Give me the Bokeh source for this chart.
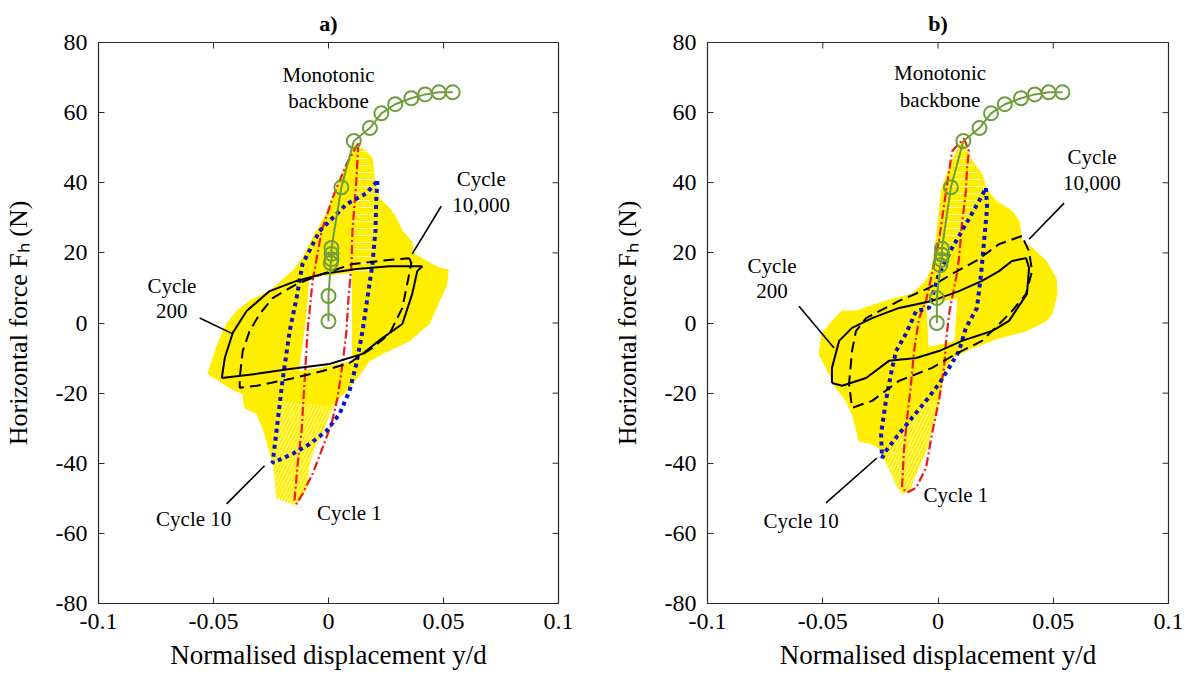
import math
from bokeh.plotting import figure
from bokeh.models import Range1d, FixedTicker, Label
from bokeh.layouts import row
from bokeh.embed import file_html
from bokeh.resources import INLINE

# ---------------- data ----------------
x_ticks = [-0.1, -0.05, 0, 0.05, 0.1]
x_tick_labels = ["-0.1", "-0.05", "0", "0.05", "0.1"]
y_ticks = [-80, -60, -40, -20, 0, 20, 40, 60, 80]
y_tick_labels = ["-80", "-60", "-40", "-20", "0", "20", "40", "60", "80"]

# Monotonic backbone (both panels)
bb_a_x = [0.0, 0.0, 0.001, 0.0013, 0.0013, 0.0013, 0.0056, 0.011, 0.018, 0.023, 0.029, 0.036, 0.042, 0.048, 0.054]
bb_a_y = [0.5, 7.7, 17.1, 18.2, 19.7, 21.4, 38.7, 51.9, 55.6, 59.8, 62.4, 64.1, 65.2, 65.8, 65.8]
bb_b_x = [-0.0005, -0.0005, 0.001, 0.0015, 0.0017, 0.0017, 0.0056, 0.011, 0.018, 0.023, 0.029, 0.036, 0.042, 0.048, 0.054]
bb_b_y = [0.0, 7.1, 16.5, 18.0, 19.5, 21.2, 38.7, 51.9, 55.6, 59.8, 62.4, 64.1, 65.2, 65.8, 65.8]

# Envelope of all cycles (yellow) - panel a
env_a_x = [0.0121, 0.0148, 0.0191, 0.0200, 0.0221, 0.0265, 0.0295, 0.0321, 0.0360, 0.0373, 0.0425, 0.0482, 0.0521,
           0.0512, 0.0482, 0.0438, 0.0351, 0.0234, 0.0178, 0.0148, 0.0091, 0.0035, 0.0004, -0.0026, -0.0052,
           -0.0082, -0.0095, -0.0126, -0.0152, -0.0226, -0.0234, -0.0247, -0.0269, -0.0286, -0.0312, -0.0364,
           -0.0373, -0.0430, -0.0486, -0.0525, -0.0516, -0.0482, -0.0443, -0.0399, -0.0343, -0.0256, -0.0156,
           -0.0113, -0.0069, -0.0009, 0.0035, 0.0078, 0.0110]
env_a_y = [49.6, 49.9, 47.0, 40.5, 35.6, 32.8, 29.9, 26.2, 23.4, 19.7, 17.7, 15.7, 15.1,
           10.5, 6.3, -0.3, -5.1, -8.8, -10.8, -13.7, -18.5, -22.2, -25.9, -31.6, -34.5,
           -39.3, -47.0, -50.7, -51.6, -49.9, -43.0, -38.5, -33.6, -29.9, -25.9, -24.2,
           -20.2, -18.5, -16.0, -14.5, -12.8, -6.0, -0.3, 3.4, 6.3, 9.1, 14.8,
           18.5, 24.2, 31.1, 38.5, 45.3, 51.0]
hole_a_x = [-0.0082, 0.0100, 0.0100, -0.0126, -0.0095]
hole_a_y = [12.8, 14.2, -10.8, -13.7, 1.4]
# lighter (striped) lobes where the intermediate cycle traces leave white gaps
lobe_up_a_x = [0.0130, 0.0165, 0.0200, 0.0221, 0.0187, 0.0104, 0.0100, 0.0121]
lobe_up_a_y = [51.3, 49.0, 40.5, 35.6, 14.8, 14.2, 26.2, 40.5]
lobe_lo_a_x = [-0.0213, 0.0004, 0.0035, -0.0026, -0.0069, -0.0113, -0.0139, -0.0169, -0.0226, -0.0234, -0.0247, -0.0234]
lobe_lo_a_y = [-22.2, -23.6, -22.2, -35.6, -43.0, -48.7, -51.6, -51.6, -49.9, -43.0, -38.5, -30.8]

# Envelope (yellow) - panel b
env_b_x = [0.0104, 0.0148, 0.0191, 0.0208, 0.0252, 0.0321, 0.0351, 0.0364, 0.0408, 0.0469, 0.0512, 0.0516,
           0.0495, 0.0469, 0.0382, 0.0265, 0.0148, 0.0061, 0.0035, 0.0017, 0.0004, -0.0026, -0.0052, -0.0095,
           -0.0126, -0.0156, -0.0182, -0.0213, -0.0256, -0.0286, -0.0343, -0.0356, -0.0373, -0.0399, -0.0443,
           -0.0486, -0.0516, -0.0503, -0.0460, -0.0416, -0.0356, -0.0226, -0.0113, -0.0052, -0.0026, -0.0009,
           0.0004, 0.0017, 0.0061]
env_b_y = [51.9, 46.2, 42.5, 38.5, 34.8, 31.9, 29.1, 23.4, 21.4, 17.7, 12.8, 8.3,
           2.6, 0.6, -2.3, -4.3, -7.1, -10.0, -12.8, -17.4, -22.2, -29.9, -36.5, -43.0,
           -47.9, -48.7, -45.9, -41.3, -35.6, -34.5, -33.6, -29.9, -25.9, -22.2, -18.5,
           -12.8, -8.8, -3.1, 0.6, 3.4, 3.4, 6.3, 8.3, 12.0, 15.7, 23.4,
           31.1, 38.5, 46.2]
hole_b_x = [-0.0048, 0.0082, 0.0069, -0.0039]
hole_b_y = [5.4, 6.8, -5.1, -6.6]
lobe_up_b_x = [0.0113, 0.0148, 0.0208, 0.0178, 0.0121, 0.0069, 0.0026, 0.0048, 0.0069]
lobe_up_b_y = [52.7, 46.2, 38.5, 34.8, 28.2, 21.4, 20.5, 34.8, 46.2]
lobe_lo_b_x = [-0.0169, -0.0052, 0.0004, -0.0026, -0.0052, -0.0095, -0.0134, -0.0156, -0.0182, -0.0213, -0.0226]
lobe_lo_b_y = [-31.6, -22.2, -22.2, -31.6, -41.3, -47.0, -48.4, -48.7, -45.9, -41.3, -36.5]

# Cycle 1 (red dash-dot)
c1_a_x = [0.0130, 0.0121, 0.0104, 0.0100, 0.0087, 0.0078, 0.0061, 0.0039, 0.0013, -0.0026, -0.0069, -0.0113,
          -0.0139, -0.0148, -0.0134, -0.0117, -0.0104, -0.0091, -0.0069, -0.0030, 0.0017, 0.0078, 0.0130]
c1_a_y = [51.3, 40.5, 26.2, 16.8, 7.1, -2.3, -11.7, -21.4, -28.8, -35.6, -43.0, -48.7,
          -51.6, -50.7, -40.2, -30.8, -16.5, -2.3, 12.0, 26.2, 35.6, 45.3, 51.3]
c1_b_x = [0.0113, 0.0134, 0.0126, 0.0121, 0.0104, 0.0091, 0.0082, 0.0048, 0.0035, 0.0026, 0.0004, -0.0026,
          -0.0052, -0.0095, -0.0134, -0.0156, -0.0148, -0.0134, -0.0117, -0.0104, -0.0082, -0.0052, -0.0026,
          0.0004, 0.0035, 0.0061, 0.0113]
c1_b_y = [52.7, 49.0, 44.2, 37.6, 28.2, 18.5, 14.0, 2.6, -5.1, -12.8, -22.2, -31.6,
          -41.3, -47.0, -48.4, -47.0, -36.5, -27.1, -17.4, -8.0, 1.4, 6.3, 14.0,
          23.4, 37.6, 49.0, 52.7]

# Cycle 10 (blue dotted)
c10_a_x = [0.0213, 0.0208, 0.0204, 0.0191, 0.0169, 0.0148, 0.0121, 0.0091, 0.0048, -0.0009, -0.0082, -0.0156,
           -0.0243, -0.0226, -0.0200, -0.0169, -0.0139, -0.0113, -0.0039, 0.0078, 0.0165, 0.0213]
c10_a_y = [40.5, 35.6, 26.2, 16.8, 7.1, -2.3, -11.7, -19.4, -25.9, -30.8, -34.5, -37.3,
           -39.9, -30.8, -16.5, -2.3, 7.1, 16.8, 26.2, 33.9, 37.0, 40.5]
c10_b_x = [0.0208, 0.0213, 0.0200, 0.0187, 0.0169, 0.0121, 0.0091, 0.0048, 0.0004, -0.0052, -0.0113, -0.0169,
           -0.0226, -0.0243, -0.0247, -0.0226, -0.0204, -0.0182, -0.0139, -0.0095, -0.0039, 0.0004, 0.0061,
           0.0121, 0.0178, 0.0208]
c10_b_y = [38.5, 32.8, 23.4, 14.0, 4.3, -1.4, -8.0, -12.8, -17.4, -22.2, -27.1, -31.6,
           -36.5, -38.5, -31.6, -22.2, -14.5, -8.0, -3.1, 3.4, 4.3, 14.0, 21.4,
           28.2, 34.8, 38.5]

# Cycle 200 (black solid)
c200_a_x = [-0.0464, -0.0451, -0.0416, -0.0356, -0.0256, -0.0139, -0.0026, 0.0121, 0.0265, 0.0408, 0.0386,
            0.0364, 0.0321, 0.0234, 0.0148, 0.0004, -0.0169, -0.0312, -0.0464]
c200_a_y = [-15.7, -10.0, -2.8, 3.4, 9.1, 12.0, 14.0, 15.4, 16.2, 16.2, 14.8,
            8.3, -0.3, -4.3, -8.8, -11.7, -13.1, -14.5, -15.7]
c200_b_x = [-0.0460, -0.0416, -0.0312, -0.0213, -0.0095, 0.0004, 0.0104, 0.0234, 0.0308, 0.0386, 0.0395,
            0.0382, 0.0321, 0.0265, 0.0191, 0.0091, -0.0026, -0.0169, -0.0286, -0.0373, -0.0429, -0.0460,
            -0.0460]
c200_b_y = [-17.1, -17.9, -15.7, -10.8, -10.0, -8.0, -5.1, -2.3, 0.6, 8.3, 15.7,
            18.5, 17.7, 14.8, 12.0, 9.1, 6.3, 4.3, 1.4, -1.4, -5.1, -12.8,
            -17.1]

# Cycle 10,000 (black dashed)
c10k_a_x = [0.0351, 0.0360, 0.0351, 0.0321, 0.0265, 0.0191, 0.0091, -0.0026, -0.0169, -0.0312, -0.0386,
            -0.0386, -0.0373, -0.0343, -0.0299, -0.0243, -0.0139, -0.0026, 0.0104, 0.0221, 0.0351]
c10k_a_y = [18.5, 17.1, 14.0, 4.3, -3.1, -7.1, -11.4, -13.7, -16.0, -17.9, -18.5,
            -15.7, -8.0, -2.3, 2.6, 7.1, 11.1, 14.0, 16.8, 17.7, 18.5]
c10k_b_x = [0.0364, 0.0265, 0.0165, 0.0061, -0.0039, -0.0169, -0.0312, -0.0356, -0.0373, -0.0386, -0.0373,
            -0.0286, -0.0169, -0.0026, 0.0078, 0.0191, 0.0265, 0.0321, 0.0382, 0.0408, 0.0395, 0.0364]
c10k_b_y = [24.8, 22.5, 17.7, 14.0, 10.0, 6.3, 1.4, -2.3, -8.0, -17.4, -24.2,
            -22.2, -16.5, -12.8, -8.8, -5.1, -0.3, 3.4, 8.3, 14.8, 20.5, 24.8]

# Annotation texts
ann_text = ["Monotonic", "backbone", "Cycle", "10,000", "Cycle", "200", "Cycle 10", "Cycle 1"]
ann_a_x = [0.0, 0.0, 0.0664, 0.0664, -0.0681, -0.0681, -0.0586, 0.0091]
ann_a_y = [70.6, 63.2, 41.0, 33.6, 10.5, 3.4, -55.8, -54.1]
ann_b_x = [0.0009, 0.0009, 0.0668, 0.0668, -0.0720, -0.0720, -0.0594, 0.0078]
ann_b_y = [71.2, 63.7, 47.3, 39.9, 16.2, 9.1, -56.4, -49.0]

# Pointer lines: [10,000], [200], [10]
ptr_a_x = [[0.0490, 0.0364], [-0.0560, -0.0416], [-0.0443, -0.0278]]
ptr_a_y = [[33.3, 19.7], [1.4, -3.1], [-51.6, -40.7]]
ptr_b_x = [[0.0547, 0.0395], [-0.0603, -0.0451], [-0.0486, -0.0265]]
ptr_b_y = [[34.2, 23.9], [4.8, -7.1], [-51.3, -38.5]]

titles = ["a)", "b)"]
x_label = "Normalised displacement y/d"
y_label = "Horizontal force F\u2095 (N)"

# ---------------- styling ----------------
FONT = "Liberation Serif"
YELLOW = "#FFEE00"
RED = "#F01818"
BLUE = "#0A14C8"
GREEN = "#6E9E3C"
FRAME = "#2a2a2a"


def make_panel(title, width, left, right, env_x, env_y, hole_x, hole_y, lux, luy, llx, lly,
               c1x, c1y, c10x, c10y, c200x, c200y, c10kx, c10ky,
               bbx, bby, ax, ay, px, py):
    p = figure(width=width, height=676, output_backend="svg", toolbar_location=None,
               x_range=Range1d(-0.1, 0.1), y_range=Range1d(-80, 80),
               min_border_left=left, min_border_right=right,
               min_border_top=42, min_border_bottom=73)
    p.xgrid.visible = False
    p.ygrid.visible = False
    p.outline_line_color = FRAME
    p.outline_line_width = 1.2
    p.background_fill_color = "white"
    p.border_fill_color = "white"

    p.title.text = title
    p.title.align = "center"
    p.title.text_font = FONT
    p.title.text_font_size = "22px"
    p.title.text_font_style = "bold"
    p.title.text_color = "black"
    p.title.standoff = 14

    p.xaxis.ticker = FixedTicker(ticks=x_ticks)
    p.yaxis.ticker = FixedTicker(ticks=y_ticks)
    p.xaxis.major_label_overrides = dict(zip(x_ticks, x_tick_labels))
    p.yaxis.major_label_overrides = dict(zip(y_ticks, y_tick_labels))
    for a in p.axis:
        a.major_tick_in = 6
        a.major_tick_out = 0
        a.minor_tick_in = 0
        a.minor_tick_out = 0
        a.axis_line_color = FRAME
        a.major_tick_line_color = FRAME
        a.major_label_text_font = FONT
        a.major_label_text_font_size = "24px"
        a.major_label_text_color = "black"
        a.axis_label_text_font = FONT
        a.axis_label_text_font_style = "normal"
        a.axis_label_text_color = "black"
    p.xaxis.major_label_standoff = 10
    p.yaxis.major_label_standoff = 11
    p.xaxis.axis_label = x_label
    p.yaxis.axis_label = y_label
    p.xaxis.axis_label_text_font_size = "27px"
    p.yaxis.axis_label_text_font_size = "26px"
    p.xaxis.axis_label_standoff = 8
    p.yaxis.axis_label_standoff = 20

    # mirrored ticks on top and right edges
    p.ray(x=x_ticks, y=[80] * len(x_ticks), length=6, length_units="screen",
          angle=-math.pi / 2, line_color=FRAME, line_width=1)
    p.ray(x=[0.1] * len(y_ticks), y=y_ticks, length=6, length_units="screen",
          angle=math.pi, line_color=FRAME, line_width=1)

    # envelope of all cycles
    p.patch(env_x, env_y, fill_color=YELLOW, line_color=YELLOW, line_width=1)
    p.patch(hole_x, hole_y, fill_color="white", line_color="white", line_width=1)
    p.patch(lux, luy, fill_alpha=0, line_alpha=0, hatch_pattern="horizontal_line",
            hatch_color="white", hatch_alpha=0.7, hatch_scale=7, hatch_weight=1)
    p.patch(llx, lly, fill_alpha=0, line_alpha=0, hatch_pattern="right_diagonal_line",
            hatch_color="white", hatch_alpha=0.7, hatch_scale=7, hatch_weight=1)

    # cycles
    p.line(c1x, c1y, line_color=RED, line_width=2.2, line_dash="9 3 2 3")
    p.line(c10x, c10y, line_color=BLUE, line_width=4, line_dash="4 4")
    p.line(c200x, c200y, line_color="black", line_width=2)
    p.line(c10kx, c10ky, line_color="black", line_width=2, line_dash="11 6")

    # backbone
    p.line(bbx, bby, line_color=GREEN, line_width=2)
    p.scatter(bbx, bby, marker="circle", size=14, fill_color=None, line_color=GREEN, line_width=2)

    # pointer lines
    for xs, ys in zip(px, py):
        p.line(xs, ys, line_color="black", line_width=1.6)

    # annotations
    for t, x, y in zip(ann_text, ax, ay):
        p.add_layout(Label(x=x, y=y, text=t, text_font=FONT, text_font_size="21px",
                           text_align="center", text_baseline="middle", text_color="black"))
    return p


pa = make_panel(titles[0], 600, 97, 42, env_a_x, env_a_y, hole_a_x, hole_a_y,
                lobe_up_a_x, lobe_up_a_y, lobe_lo_a_x, lobe_lo_a_y,
                c1_a_x, c1_a_y, c10_a_x, c10_a_y, c200_a_x, c200_a_y, c10k_a_x, c10k_a_y,
                bb_a_x, bb_a_y, ann_a_x, ann_a_y, ptr_a_x, ptr_a_y)
pb = make_panel(titles[1], 592, 107, 24, env_b_x, env_b_y, hole_b_x, hole_b_y,
                lobe_up_b_x, lobe_up_b_y, lobe_lo_b_x, lobe_lo_b_y,
                c1_b_x, c1_b_y, c10_b_x, c10_b_y, c200_b_x, c200_b_y, c10k_b_x, c10k_b_y,
                bb_b_x, bb_b_y, ann_b_x, ann_b_y, ptr_b_x, ptr_b_y)

layout = row(pa, pb)
open("out.html", "w").write(file_html(layout, INLINE))
